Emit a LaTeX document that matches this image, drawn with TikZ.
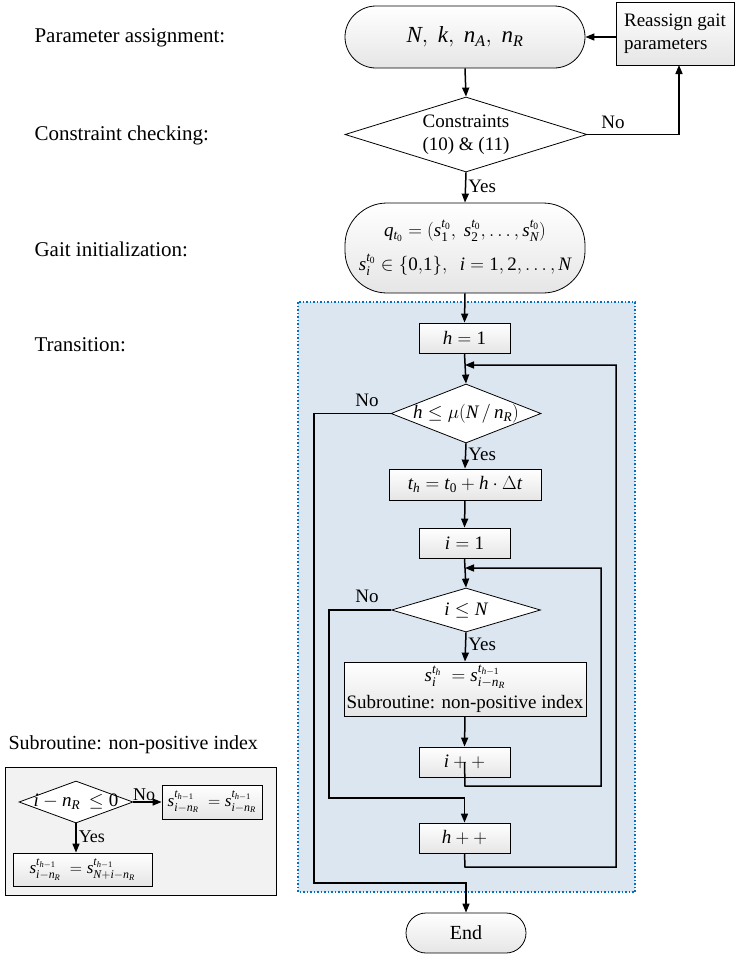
\RequirePackage{fix-cm}
\documentclass[tikz,border=0pt]{standalone}
\usepackage{amsmath}
\usepackage[no-math]{fontspec}
\setmainfont{Liberation Serif}
\DeclareSymbolFont{timesit}{TU}{\rmdefault}{m}{it}
\DeclareSymbolFont{timesrm}{TU}{\rmdefault}{m}{n}
\count255=`a
\loop \Umathcode\count255=7 \symtimesit \count255 \ifnum\count255<`z \advance\count255 by 1 \repeat
\count255=`A
\loop \Umathcode\count255=7 \symtimesit \count255 \ifnum\count255<`Z \advance\count255 by 1 \repeat
\count255=`0
\loop \Umathcode\count255=0 \symtimesrm \count255 \ifnum\count255<`9 \advance\count255 by 1 \repeat
\usetikzlibrary{arrows.meta,shapes.geometric,calc}
\definecolor{bluefill}{RGB}{220,230,241}
\definecolor{bluedot}{RGB}{0,112,192}
\definecolor{panelfill}{RGB}{242,242,242}
\tikzset{
  x=1pt,y=-1pt,
  every node/.style={font=\fontsize{19}{23}\selectfont},
  shadebox/.style={draw,line width=0.8pt,top color=white,bottom color=black!10,inner sep=0pt},
  procbox/.style={shadebox,rectangle},
  termbox/.style={shadebox,rectangle,align=center},
  decbox/.style={draw,line width=0.8pt,diamond,fill=white,inner sep=0pt},
  conn/.style={line width=1.5pt,-{Triangle[length=9pt,width=7pt]}},
  sidelabel/.style={anchor=west,font=\fontsize{21}{25}\selectfont},
  yeslabel/.style={anchor=west,inner sep=2pt},
}
\begin{document}
\begin{tikzpicture}
\useasboundingbox (0,0) rectangle (735,954);
% transition background
\draw[bluedot,dotted,line width=1.5pt,fill=bluefill] (298,302) rectangle (635,892);
% side labels
\node[sidelabel] (l1) at (31,38) {Parameter assignment:};
\node[sidelabel] (l2) at (31,135) {Constraint checking:};
\node[sidelabel] (l3) at (31,249) {Gait initialization:};
\node[sidelabel] (l4) at (31,345) {Transition:};
% main nodes
\node[termbox,rounded corners=31pt,minimum width=240pt,minimum height=62pt,font=\fontsize{23}{28}\selectfont] (T1) at (465,37) {$N,\ k,\ n_A,\ n_R$};
\node[procbox,minimum width=118pt,minimum height=63pt,align=left] (R) at (675,33.5) {Reassign gait\\parameters};
\node[decbox,minimum width=242pt,minimum height=75pt,label={[align=center]center:Constraints\\(10) \& (11)}] (D1) at (466,134.5) {};
\node[termbox,rounded corners=42pt,minimum width=240pt,minimum height=90pt,font=\fontsize{19}{34}\selectfont] (G) at (465,248)
  {$q_{t_0}=(s_1^{t_0},\ s_2^{t_0},\ldots,s_N^{t_0})$\\$s_i^{t_0}\in\{0{,}1\},\ \ i=1,2,\ldots,N$};
\node[procbox,minimum width=91pt,minimum height=30pt] (h1) at (464.5,338) {$h=1$};
\node[decbox,minimum width=150pt,minimum height=59pt,label={center:$h\le\mu(N\,/\,n_R)$}] (D2) at (466,413.5) {};
\node[procbox,minimum width=152pt,minimum height=31pt] (th) at (465,484.5) {$t_h=t_0+h\cdot\Delta t$};
\node[procbox,minimum width=91pt,minimum height=30pt] (i1) at (464.5,543) {$i=1$};
\node[decbox,minimum width=149pt,minimum height=44pt,label={center:$i\le N$}] (D3) at (466,610) {};
\node[procbox,minimum width=242pt,minimum height=54pt,align=center,font=\fontsize{19}{26}\selectfont] (S) at (465,689)
  {$s_i^{t_h}\ =s_{i-n_R}^{t_{h-1}}$\\[1pt]Subroutine: non-positive index};
\node[procbox,minimum width=91pt,minimum height=30pt] (ipp) at (464.5,762) {$i++$};
\node[procbox,minimum width=91pt,minimum height=30pt] (hpp) at (464.5,838) {$h++$};
\node[termbox,rounded corners=20pt,minimum width=120pt,minimum height=40pt,font=\fontsize{20}{24}\selectfont] (E) at (466,933) {End};
% routing coordinates
\coordinate (c1) at (616,365);
\coordinate (c2) at (465,365);
\coordinate (c3) at (601,568);
\coordinate (c4) at (465,568);
\coordinate (n1) at (314,883);
\coordinate (n2) at (329,798);
% connectors
\draw[conn] (T1.south) -- (D1.north);
\draw[conn] (R.west |- T1.east) -- (T1.east);
\draw[conn] (D1.east) -| (679,65) node[pos=0.14,above,inner sep=5pt] (no1) {No};
\draw[conn] (D1.south) -- node[yeslabel,pos=0.45] (y1) {Yes} (G.north);
\draw[conn] (G.south) -- (h1.north);
\draw[conn] (h1.south) -- (D2.north);
\draw[conn] (D2.south) -- node[yeslabel,pos=0.45] (y2) {Yes} (th.north);
\draw[conn] (th.south) -- (i1.north);
\draw[conn] (i1.south) -- (D3.north);
\draw[conn] (D3.south) -- node[yeslabel,pos=0.4] (y3) {Yes} (S.north);
\draw[conn] (S.south) -- (ipp.north);
\draw[conn] (ipp.center) -- (465,786) -- (601,786) -- (c3) -- (c4);
\draw[conn] (hpp.south) -- (465,867) -- (616,867) -- (c1) -- (c2);
\draw[conn] (D3.west) -| (n2) -- (n2 -| hpp.north) -- (hpp.north);
\draw[conn] (D2.west) -| (n1) -- (n1 -| E.north) -- (E.north);
\node[inner sep=0pt] (no2) at (367,400) {No};
\node[inner sep=0pt] (no3) at (367,596) {No};
% subroutine panel
\node[anchor=west,font=\fontsize{20}{24}\selectfont] (SL) at (5,745) {Subroutine: non-positive index};
\draw[line width=0.8pt,fill=panelfill] (5,767) rectangle (276,895);
\node[decbox,minimum width=114pt,minimum height=42pt,label={center:$i-n_R\,\le 0$}] (SD) at (76,802) {};
\node[procbox,minimum width=100pt,minimum height=34pt,font=\fontsize{17}{22}\selectfont] (SB1) at (212,802) {$s_{i-n_R}^{t_{h-1}}\ =s_{i-n_R}^{t_{h-1}}$};
\node[procbox,minimum width=139pt,minimum height=33pt,font=\fontsize{17}{22}\selectfont] (SB2) at (82.5,869.5) {$s_{i-n_R}^{t_{h-1}}\ =s_{N+i-n_R}^{t_{h-1}}$};
\draw[conn] (SD.east) -- node[above,inner sep=1pt,pos=0.38,font=\fontsize{18}{22}\selectfont] (sno) {No} (SB1.west);
\draw[conn] (SD.south) -- node[yeslabel,pos=0.45,font=\fontsize{18}{22}\selectfont] (syes) {Yes} (SD.south |- SB2.north);
\end{tikzpicture}
\end{document}
